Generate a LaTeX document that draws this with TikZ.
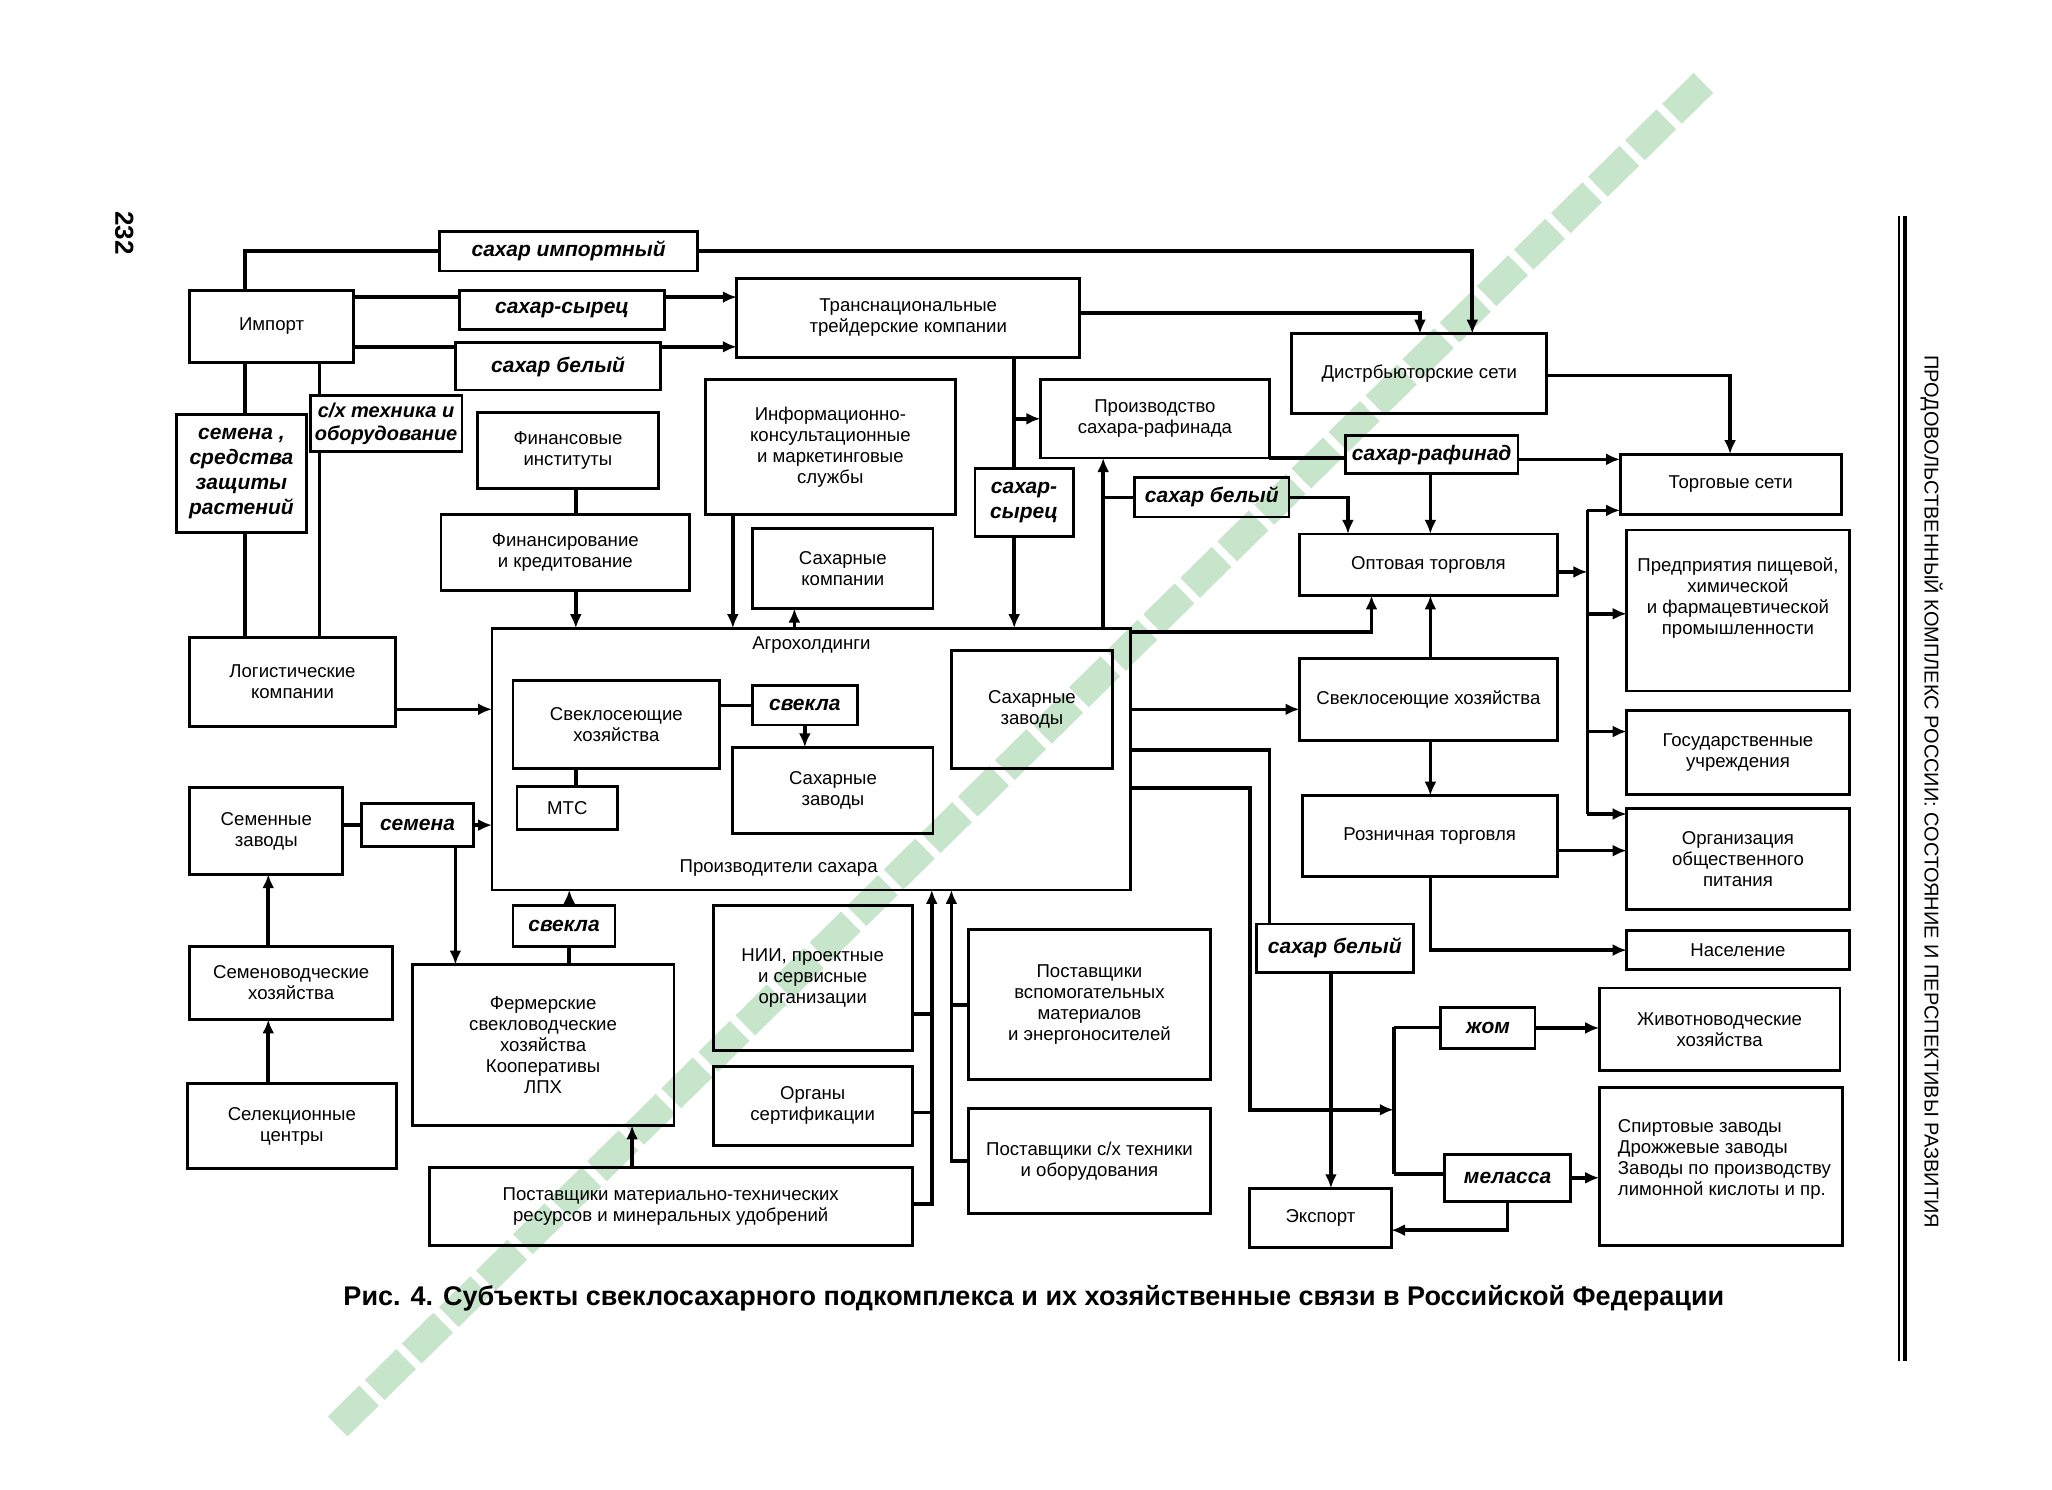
\documentclass[tikz,border=0pt]{standalone}
\usepackage{fontspec}
\setmainfont{Liberation Sans}
\usetikzlibrary{arrows.meta}
\definecolor{wmgreen}{RGB}{198,229,202}
\newcommand\mybx[7][]{%
  \pgfmathsetmacro\bxw{(#5-#3)*0.6544}%
  \pgfmathsetmacro\bxh{(#6-#4)*0.6544}%
  \node[box,#1,minimum width=\bxw pt,minimum height=\bxh pt] (#2) at ({(#3+#5)/2},{(#4+#6)/2}) {#7};}
\begin{document}
\begin{tikzpicture}[x=0.6544pt,y=-0.6544pt,
  box/.style={draw, line width=1.4pt, inner sep=0pt, outer sep=0pt, align=center, font=\fontsize{9.3}{10.5}\selectfont},
  lab/.style={font=\fontsize{10.5}{12.5}\selectfont\bfseries\itshape},
  txt/.style={inner sep=0pt, align=center, font=\fontsize{9.3}{10.5}\selectfont},
  conn/.style={line width=1.8pt},
  arr/.style={conn, -{Latex[length=7pt,width=6pt]}},
  wm/.style={line width=14pt, color=wmgreen, dash pattern=on 22pt off 4pt}]
\fill[white] (0,0) rectangle (1568,1138);
\useasboundingbox (0,0) rectangle (1568,1138);
% watermark
\draw[wm] (258,1090) -- (1305,60);
% page furniture
\node[rotate=-90, font=\fontsize{13}{15}\selectfont\bfseries] (pnum) at (95,178) {232};
\draw[line width=0.8pt] (1451,165) -- (1451,1040);
\draw[line width=2pt] (1455.5,165) -- (1455.5,1040);
\node[rotate=-90, font=\fontsize{10}{12}\selectfont] (hdr) at (1476,605) {ПРОДОВОЛЬСТВЕННЫЙ КОМПЛЕКС РОССИИ: СОСТОЯНИЕ И ПЕРСПЕКТИВЫ РАЗВИТИЯ};
% boxes
\mybx[lab]{limp}{336}{177}{533}{207}{сахар импортный}
\mybx{imp}{145}{222}{270}{277}{Импорт}
\mybx[lab]{lsyr}{351}{222}{508}{252}{сахар-сырец}
\mybx[lab]{lbel}{348}{262}{505}{298}{сахар белый}
\mybx{trans}{563}{213}{825}{273}{Транснациональные\\трейдерские компании}
\mybx{dist}{987}{255}{1182}{316}{Дистрбьюторские сети}
\mybx[lab]{lsem}{135}{317}{234}{407}{семена ,\\средства\\защиты\\растений}
\mybx[lab,font=\fontsize{10}{11.5}\selectfont\bfseries\itshape]{ltech}{237}{302}{353}{345}{с/х техника и\\оборудование}
\mybx{fin}{365}{315}{503}{373}{Финансовые\\институты}
\mybx{info}{539}{290}{730}{393}{Информационно-\\консультационные\\и маркетинговые\\службы}
\mybx{raf}{795}{290}{970}{350}{Производство\\сахара-рафинада}
\mybx[lab]{lraf}{1028}{333}{1160}{362}{сахар-рафинад}
\mybx{torg}{1238}{347}{1407}{393}{Торговые сети}
\mybx[lab]{lsyr2}{745}{358}{820}{410}{сахар-\\сырец}
\mybx[lab]{lbel2}{867}{365}{985}{395}{сахар белый}
\mybx{fkred}{337}{393}{527}{451}{Финансирование\\и кредитование}
\mybx{skomp}{575}{404}{713}{465}{Сахарные\\компании}
\mybx{opt}{993}{408}{1190}{455}{Оптовая торговля}
\mybx{pred}{1243}{405}{1413}{528}{}
\node[txt] (predt) at (1328,457) {Предприятия пищевой,\\химической\\и фармацевтической\\промышленности};
\mybx{log}{145}{487}{302}{555}{Логистические\\компании}
\mybx{agro}{376}{480}{864}{680}{}
\node[txt] (agrot) at (620,493) {Агрохолдинги};
\node[txt] (prodt) at (595,663) {Производители сахара};
\mybx{svi}{392}{520}{550}{587}{Свеклосеющие\\хозяйства}
\mybx[lab]{lsvi}{575}{524}{655}{554}{свекла}
\mybx{szm}{560}{571}{713}{637}{Сахарные\\заводы}
\mybx{mts}{395}{601}{472}{634}{МТС}
\mybx{szr}{727}{497}{850}{587}{Сахарные\\заводы}
\mybx{svr}{993}{503}{1190}{566}{Свеклосеющие хозяйства}
\mybx{gos}{1243}{543}{1413}{607}{Государственные\\учреждения}
\mybx{rozn}{995}{608}{1190}{670}{Розничная торговля}
\mybx{org}{1243}{618}{1413}{695}{Организация\\общественного\\питания}
\mybx{semz}{145}{602}{262}{668}{Семенные\\заводы}
\mybx[lab]{lsemena}{276}{614}{362}{647}{семена}
\mybx{nas}{1243}{711}{1413}{741}{Население}
\mybx[lab]{lsvb}{392}{692}{470}{723}{свекла}
\mybx{nii}{545}{692}{697}{803}{НИИ, проектные\\и сервисные\\организации}
\mybx[lab]{lbel3}{960}{706}{1080}{743}{сахар белый}
\mybx{vsp}{740}{710}{925}{825}{Поставщики\\вспомогательных\\материалов\\и энергоносителей}
\mybx{semh}{145}{723}{300}{779}{Семеноводческие\\хозяйства}
\mybx{ferm}{315}{737}{515}{860}{Фермерские\\свекловодческие\\хозяйства\\Кооперативы\\ЛПХ}
\mybx[lab]{lzhom}{1101}{770}{1173}{801}{жом}
\mybx{zhiv}{1222}{755}{1406}{818}{Животноводческие\\хозяйства}
\mybx{organ}{545}{815}{697}{875}{Органы\\сертификации}
\mybx{sel}{143}{828}{303}{893}{Селекционные\\центры}
\mybx{spirt}{1222}{831}{1408}{952}{}
\node[txt, align=left, anchor=west] (spirtt) at (1236,886) {Спиртовые заводы\\Дрожжевые заводы\\Заводы по производству\\лимонной кислоты и пр.};
\mybx{ptech}{740}{847}{925}{927}{Поставщики с/х техники\\и оборудования}
\mybx[lab]{lmel}{1104}{882}{1200}{918}{меласса}
\mybx{pmat}{328}{892}{697}{952}{Поставщики материально-технических\\ресурсов и минеральных удобрений}
\mybx{exp}{955}{908}{1063}{953}{Экспорт}
% caption
\node[font=\fontsize{13.5}{16}\selectfont\bfseries] (cap) at (790,992) {Рис. 4. Субъекты свеклосахарного подкомплекса и их хозяйственные связи в Российской Федерации};
% bus coordinates
\coordinate (bt) at (1213,390);
\coordinate (bb) at (1213,622);
\coordinate (mbt) at (1065,785);
\coordinate (mbb) at (1065,897);
\coordinate (b1n) at (712,775);
\coordinate (b1o) at (712,850);
\coordinate (b2v) at (727,768);
% connectors: import
\draw[conn] (imp.north -| 187,0) |- (limp.west);
\draw[arr] (limp.east) -| (dist.north -| 1125,0);
\draw[conn] (imp.east |- 0,227) -- (lsyr.west |- 0,227);
\draw[arr] (lsyr.east |- 0,227) -- (trans.west |- 0,227);
\draw[conn] (imp.east |- 0,265) -- (lbel.west |- 0,265);
\draw[arr] (lbel.east |- 0,265) -- (trans.west |- 0,265);
\draw[conn] (imp.south -| 187,0) -- (lsem.north -| 187,0);
\draw[conn] (lsem.south -| 187,0) -- (log.north -| 187,0);
\draw[conn] (imp.south -| 244,0) -- (ltech.north -| 244,0);
\draw[conn] (ltech.south -| 244,0) -- (log.north -| 244,0);
% finance, info
\draw[conn] (fin.south -| 440,0) -- (fkred.north -| 440,0);
\draw[arr] (fkred.south -| 440,0) -- (agro.north -| 440,0);
\draw[arr] (info.south -| 560,0) -- (agro.north -| 560,0);
\draw[arr] (agro.north -| 607,0) -- (skomp.south -| 607,0);
% trans
\draw[conn] (trans.south -| 775,0) -- (lsyr2.north -| 775,0);
\draw[arr] (lsyr2.south -| 775,0) -- (agro.north -| 775,0);
\draw[arr] (trans.south -| 775,0) |- (raf.west |- 0,320);
\draw[arr] (trans.east |- 0,239) -| (dist.north -| 1085,0);
% rafinad
\draw[arr] (agro.north -| 843,0) -- (raf.south -| 843,0);
\draw[conn] (agro.north -| 843,0) |- (lbel2.west);
\draw[arr] (lbel2.east) -| (opt.north -| 1030,0);
\draw[conn] (raf.south east) -- (lraf.west |- raf.south east);
\draw[arr] (lraf.east |- 0,351) -- (torg.west |- 0,351);
\draw[arr] (lraf.south -| 1093,0) -- (opt.north -| 1093,0);
\draw[arr] (dist.east |- 0,287) -| (torg.north -| 1322,0);
% trade bus
\draw[arr] (opt.east |- 0,437) -- (bt |- 0,437);
\draw[conn] (bt) -- (bb);
\draw[arr] (bt) -- (torg.west |- bt);
\draw[arr] (bt |- 0,469) -- (pred.west |- 0,469);
\draw[arr] (bt |- 0,559) -- (gos.west |- 0,559);
\draw[arr] (bb) -- (org.west |- bb);
% agro right side
\draw[arr] (agro.east |- 0,483) -| (opt.south -| 1048,0);
\draw[arr] (agro.east |- 0,542) -- (svr.west |- 0,542);
\draw[arr] (svr.north -| 1093,0) -- (opt.south -| 1093,0);
\draw[arr] (svr.south -| 1093,0) -- (rozn.north -| 1093,0);
\draw[arr] (rozn.east |- 0,650) -- (org.west |- 0,650);
\draw[arr] (rozn.south -| 1093,0) |- (nas.west);
\draw[conn] (agro.east |- 0,573) -| (lbel3.north -| 970,0);
\draw[arr] (lbel3.south -| 1017,0) -- (exp.north -| 1017,0);
\draw[arr] (agro.east |- 0,602) -| (955,848) -- (mbt |- 0,848);
\draw[conn] (mbt) -- (mbb);
\draw[conn] (mbt) -- (lzhom.west |- mbt);
\draw[conn] (mbb) -- (lmel.west |- mbb);
\draw[arr] (lzhom.east) -- (zhiv.west |- lzhom.east);
\draw[arr] (lmel.east) -- (spirt.west |- lmel.east);
\draw[arr] (lmel.south -| 1152,0) |- (exp.east |- 0,940);
% inside agro
\draw[conn] (svi.east |- lsvi.west) -- (lsvi.west);
\draw[arr] (lsvi.south) -- (szm.north -| lsvi.south);
\draw[conn] (svi.south -| 440,0) -- (mts.north -| 440,0);
% left side
\draw[arr] (log.east |- 0,542) -- (agro.west |- 0,542);
\draw[conn] (semz.east |- lsemena.west) -- (lsemena.west);
\draw[arr] (lsemena.east) -- (agro.west |- lsemena.east);
\draw[arr] (lsemena.south -| 348,0) -- (ferm.north -| 348,0);
\draw[arr] (semh.north -| 205,0) -- (semz.south -| 205,0);
\draw[arr] (sel.north -| 205,0) -- (semh.south -| 205,0);
\draw[conn] (ferm.north -| 435,0) -- (lsvb.south -| 435,0);
\draw[arr] (lsvb.north -| 435,0) -- (agro.south -| 435,0);
\draw[arr] (pmat.north -| 483,0) -- (ferm.south -| 483,0);
% bottom buses
\draw[arr] (pmat.east |- 0,920) -| (agro.south -| 712,0);
\draw[conn] (nii.east |- b1n) -- (b1n);
\draw[conn] (organ.east |- b1o) -- (b1o);
\draw[arr] (ptech.west |- 0,887) -| (agro.south -| 727,0);
\draw[conn] (vsp.west |- b2v) -- (b2v);
\end{tikzpicture}
\end{document}
